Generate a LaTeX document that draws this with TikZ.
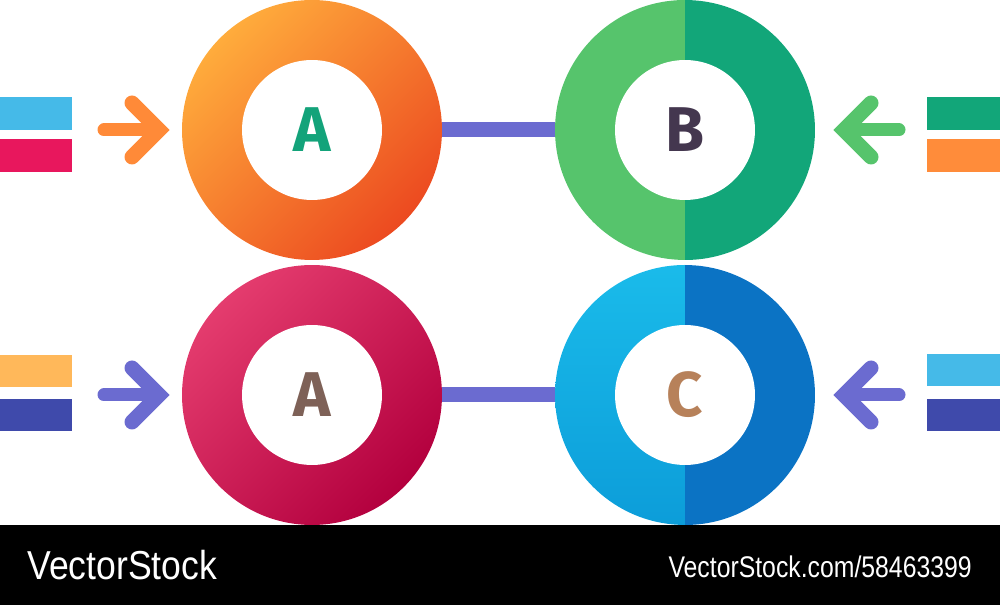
\documentclass[tikz,border=0pt]{standalone}
\usepackage{fontspec}
\setmainfont{Liberation Sans}
\newfontfamily\letterfont{Fira Sans}
\usetikzlibrary{positioning}
\definecolor{orangelight}{HTML}{FFAC3C}
\definecolor{orangedark}{HTML}{EC4A20}
\definecolor{greenlight}{HTML}{56C46C}
\definecolor{greendark}{HTML}{12A679}
\definecolor{redlight}{HTML}{E43C6E}
\definecolor{reddark}{HTML}{B3003E}
\definecolor{bluelight}{HTML}{1ABBEA}
\definecolor{bluemid}{HTML}{0C9DD9}
\definecolor{bluedark}{HTML}{0B73C4}
\definecolor{linkpurple}{HTML}{6B6BD0}
\definecolor{arrorange}{HTML}{FF8A38}
\definecolor{barblue}{HTML}{45BAE8}
\definecolor{barred}{HTML}{E8175D}
\definecolor{barorange}{HTML}{FF8C3A}
\definecolor{baryellow}{HTML}{FFB85A}
\definecolor{barnavy}{HTML}{3F4AAB}
\definecolor{lettergreen}{HTML}{13A37A}
\definecolor{letterdark}{HTML}{44374F}
\definecolor{letterbrown}{HTML}{7E6157}
\definecolor{lettertan}{HTML}{B7815A}
\tikzset{
  >=latex,
  ring/.style={circle,minimum size=5.2cm,inner sep=0pt},
  hole/.style={circle,fill=white,minimum size=2.8cm,inner sep=0pt,
    font=\letterfont\bfseries\fontsize{36}{36}\selectfont},
  link/.style={line width=0.3cm,draw=linkpurple},
  bar/.style={minimum width=1.46cm,minimum height=0.66cm,inner sep=0pt},
  shaft/.style={line width=0.26cm,line cap=round},
  barb/.style={line width=0.3cm,line cap=round,line join=miter}
}

\begin{document}
\begin{tikzpicture}[x=0.02cm,y=0.02cm]
      \useasboundingbox (0,0) rectangle (1000,605);
      % rings
      \node[ring,top color=orangelight,bottom color=orangedark,shading angle=45]
        (ringA) at (312,475) {};
      \node[ring,top color=redlight,bottom color=reddark,shading angle=45]
        (ringD) at (312,210) {};
      \fill[greenlight] (685,475) ++(90:130) arc[start angle=90,end angle=270,radius=2.6cm] -- cycle;
      \fill[greendark] (685,475) ++(-90:130) arc[start angle=-90,end angle=90,radius=2.6cm] -- cycle;
      \shade[top color=bluelight,bottom color=bluemid] (685,210) ++(90:130)
        arc[start angle=90,end angle=270,radius=2.6cm] -- cycle;
      \fill[bluedark] (685,210) ++(-90:130) arc[start angle=-90,end angle=90,radius=2.6cm] -- cycle;
      \node[ring] (ringB) at (685,475) {};
      \node[ring] (ringC) at (685,210) {};
      \draw[link] (ringA) -- (ringB);
      \draw[link] (ringD) -- (ringC);
      \node[hole,text=lettergreen] (holeA) at (ringA) {A};
      \node[hole,text=letterdark] (holeB) at (ringB) {B};
      \node[hole,text=letterbrown] (holeD) at (ringD) {A};
      \node[hole,text=lettertan] (holeC) at (ringC) {C};
      % side bars
      \node[bar,fill=barblue] (barA1) at (36,491.5) {};
      \node[bar,fill=barred] (barA2) at (36,449.5) {};
      \node[bar,fill=greendark] (barB1) at (963.5,491.5) {};
      \node[bar,fill=barorange] (barB2) at (963.5,449.5) {};
      \node[bar,fill=baryellow] (barD1) at (36,234) {};
      \node[bar,fill=barnavy] (barD2) at (36,190) {};
      \node[bar,fill=barblue] (barC1) at (963.5,235) {};
      \node[bar,fill=barnavy] (barC2) at (963.5,190) {};
      % arrows
      \foreach \x/\y/\d/\c in {159/475/1/arrorange,159/210/1/linkpurple,
        844/475/-1/greenlight,844/210/-1/linkpurple}{
        \draw[barb,draw=\c] (\x-27*\d,\y+27) -- (\x,\y) -- (\x-27*\d,\y-27);
        \draw[shaft,draw=\c] (\x-2*\d,\y) -- (\x-55*\d,\y);
      }
      % footer
      \fill[black] (0,0) rectangle (1000,80);
      \node[anchor=west,text=white,inner sep=0pt,xscale=0.88,
        font=\fontsize{23}{23}\selectfont] (brand) at (27,40) {VectorStock};
      \node[anchor=east,text=white,inner sep=0pt,xscale=0.83,
        font=\fontsize{17}{17}\selectfont] (site) at (972,38) {VectorStock.com/58463399};
\end{tikzpicture}
\end{document}
